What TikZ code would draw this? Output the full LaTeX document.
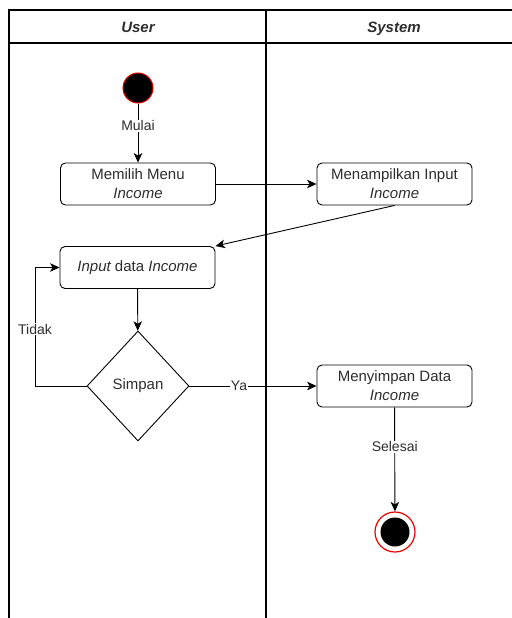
\documentclass[tikz,border=0pt]{standalone}
\usepackage{fontspec}
\setmainfont{Liberation Sans}
\usetikzlibrary{shapes.geometric,arrows.meta}
\definecolor{txt}{RGB}{45,45,45}
\definecolor{startred}{RGB}{235,0,0}
\begin{document}
\begin{tikzpicture}[x=1pt,y=-1pt,
  box/.style={draw, rounded corners=5pt, minimum width=155pt, minimum height=42pt, align=center, text=txt, font=\fontsize{15}{19}\selectfont, inner sep=0pt, line width=0.9pt},
  dec/.style={diamond, draw, minimum width=102pt, minimum height=110pt, inner sep=0pt, text=txt, font=\fontsize{15}{19}\selectfont, line width=0.9pt},
  arr/.style={-{Stealth[length=9.5pt,width=8.5pt,inset=2.5pt]}, line width=0.9pt},
  lbl/.style={fill=white, text=txt, font=\fontsize{14}{16}\selectfont, inner sep=1pt},
  hdr/.style={text=txt, font=\fontsize{15}{18}\selectfont\bfseries\itshape, text height=11pt, text depth=3pt, inner sep=0pt},
  lane/.style={line width=1.2pt}]
\useasboundingbox (0,0) rectangle (511,618);
% swimlanes
\draw[lane] (9,618) -- (9,10) -- (530,10);
\draw[lane] (9,43) -- (530,43);
\draw[lane] (266,10) -- (266,618);
\node[hdr] (hu) at (138,29) {User};
\node[hdr] (hs) at (394,29) {System};
% nodes
\node[circle, fill=black, draw=startred, line width=1pt, minimum size=30pt, inner sep=0pt] (start) at (138,88) {};
\node[box] (b1) at (138,184) {Memilih Menu\\\itshape Income};
\node[box] (b2) at (394.5,184) {Menampilkan Input\\\itshape Income};
\node[box] (b3) at (137.5,267.5) {\itshape Input\upshape{} data \itshape Income};
\node[dec] (d) at (138,386) {Simpan};
\node[box] (b4) at (394.5,386) {Menyimpan Data\\\itshape Income};
\node[circle, draw=startred, line width=1.2pt, fill=white, minimum size=40pt, inner sep=0pt] (endo) at (395,532) {};
\node[circle, fill=black, minimum size=29pt, inner sep=0pt] (endi) at (395,532) {};
\coordinate (tx) at (35,386);
% connectors
\draw[arr] (start) -- node[lbl, pos=0.38] {Mulai} (b1);
\draw[arr] (b1) -- (b2);
\draw[arr] (b2.south) -- (b3.north east);
\draw[arr] (b3) -- (d);
\draw[arr] (d.west) -- (tx) |- node[lbl, pos=0.24] {Tidak} (b3.west);
\draw[arr] (d.east) -- node[lbl, pos=0.39] {Ya} (b4.west);
\draw[arr] (b4) -- node[lbl, pos=0.38] {Selesai} (endo);
\end{tikzpicture}
\end{document}
